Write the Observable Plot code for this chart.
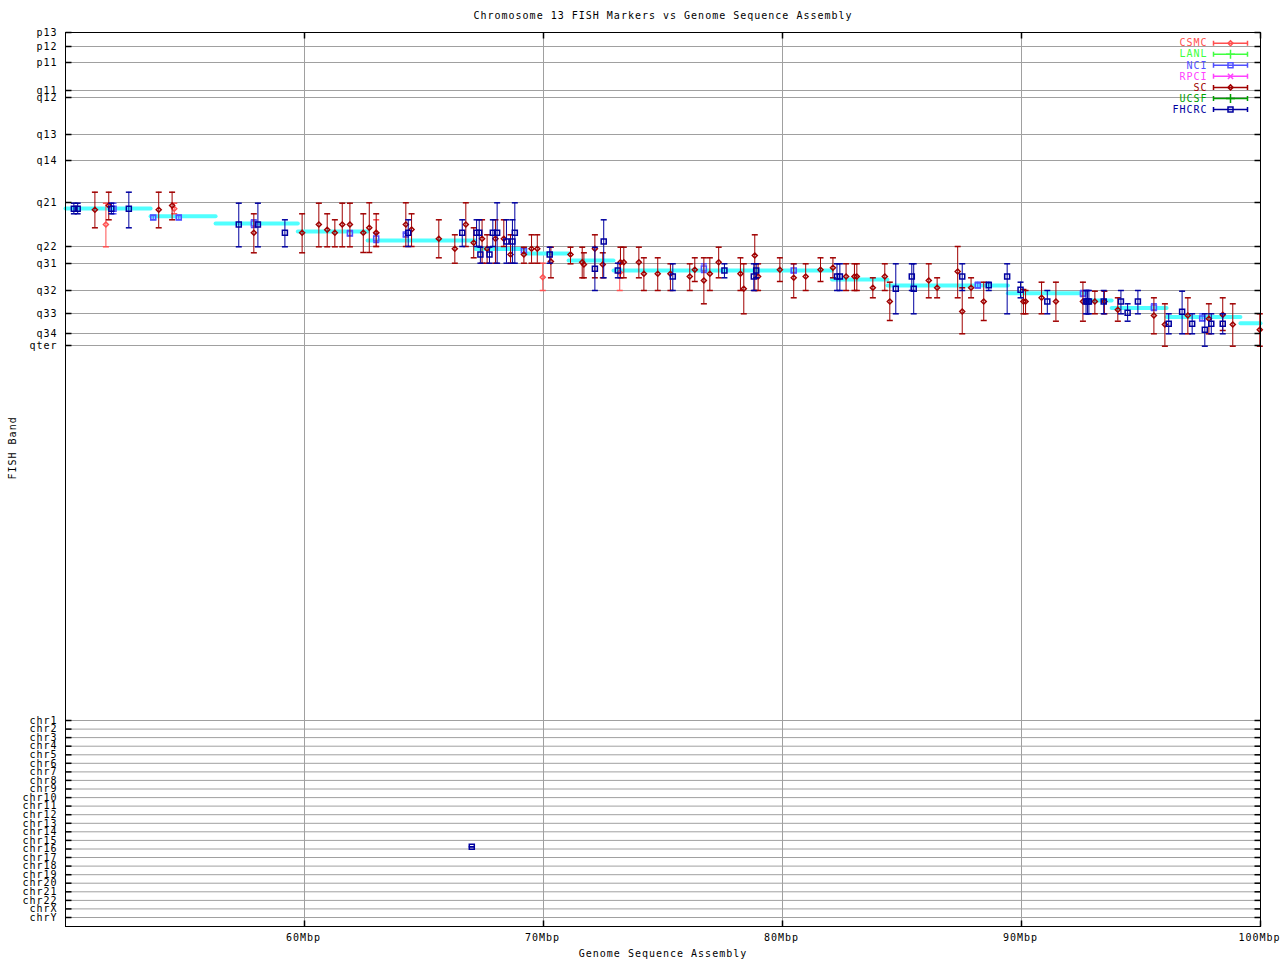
<!DOCTYPE html>
<html><head><meta charset="utf-8">
<script src="https://cdn.jsdelivr.net/npm/d3@7"></script>
<script src="https://cdn.jsdelivr.net/npm/@observablehq/plot@0.6"></script>
<style>
body{margin:0;background:#fff;}
#wrap{width:1280px;height:960px;}
</style></head><body><div id="wrap"></div>
<script>
// ---- axis data ----
const bandLabels = ["p13","p12","p11","q11","q12","q13","q14","q21","q22","q31","q32","q33","q34","qter"];
const bandPos    = [0,14,30,58,65,102,128,170,214,231,258,281,301,313];
const chrLabels  = ["chr1","chr2","chr3","chr4","chr5","chr6","chr7","chr8","chr9","chr10","chr11","chr12",
                    "chr13","chr14","chr15","chr16","chr17","chr18","chr19","chr20","chr21","chr22","chrX","chrY"];
const chrPos     = [688,696.6,705.1,713.7,722.3,730.8,739.4,747.9,756.5,765.1,773.6,782.2,
                    790.8,799.3,807.9,816.5,825.0,833.6,842.2,850.7,859.3,867.9,876.4,885];
const xTickValues = [60,70,80,90,100];
const xTickLabels = ["60Mbp","70Mbp","80Mbp","90Mbp","100Mbp"];

// ---- series (Mbp, band, band low, band high) ----
const seriesNames  = ["CSMC","LANL","NCI","RPCI","SC","UCSF","FHCRC"];
const seriesColors = ["#ff5050","#40ff40","#5050ff","#ff40ff","#a00000","#00a000","#0000a0"];

const CSMC = [[51.69,192,170.7,214.3],[54.55,176.3,170.7,181.3],[63.00,200.3,187.3,214],[69.97,244.7,230.7,258],[73.19,240,231.3,258]];
const LANL = [];
const NCI = [[52.01,176.3,170.7,181.3],[53.67,185,183,187],[54.74,185,183,187],[57.88,191,187.3,195],[61.90,201,198,203],
  [63.00,206,201,210],[64.24,202,201,204],[69.18,218,216,220],[76.71,236,231.3,240],[80.47,238,231.3,240],
  [88.17,253,249.7,255.3],[92.57,261,258,264],[95.54,275,271.3,278],[97.56,286,281.3,288]];
const RPCI = [];
const SC = [
[51.23,177.3,159.7,195.3],[51.81,173,159.7,187.3],[53.90,177.3,159.7,195.3],[54.46,173,159.7,187.3],
[57.88,200.3,181.3,220.3],[59.90,200.3,181.3,220.3],[60.60,192,170.7,214.3],[60.95,197.3,181.3,214.3],
[61.27,200.3,187.3,214.3],[61.58,192,170.7,214.3],[61.90,192,170.7,214.3],[62.46,200.3,181.3,220],
[62.71,195.3,170.3,220],[63.00,200.3,181.3,214],[64.24,192,170.3,214],[64.48,197,181.3,214],
[65.62,206.3,187.3,225.3],[66.29,216.3,202.3,230.7],[66.75,192,170.3,214],[67.08,210.3,195.3,225.3],
[67.43,206.3,187.3,230.7],[67.64,216.3,202.3,230.7],[67.99,206.3,187.3,230.7],[68.34,206.3,187.3,214],
[68.62,222,202.3,230.7],[69.18,222,214.7,230.7],[69.50,216.3,202.3,230.7],[69.74,216.3,202.3,230.7],
[70.31,229,214.7,245.3],[71.13,222,214.7,231.3],[71.62,229.7,214.7,245.3],[71.69,232,220.3,245.3],
[72.15,216.3,202.3,245.3],[72.48,232,220.3,245.3],[73.22,229.7,214.7,245.3],[73.36,229.7,214.7,245.3],
[73.99,229.7,214.7,245.3],[74.20,241.3,225.3,258],[74.78,241.3,225.3,258],[75.31,241.3,231.3,258],
[76.12,244,231.3,258],[76.33,237.3,225.3,249],[76.71,248,225.3,271.3],[76.96,241.3,225.3,258],
[77.33,229.7,214.7,245.3],[78.24,241.3,225.3,258],[78.38,256.3,231.3,281.3],[78.84,223,202.3,258],
[78.98,244,231.3,258],[79.89,237.3,225.3,249],[80.47,245.3,231.3,265.3],[80.97,244,231.3,258],
[81.59,237.3,225.3,249],[82.11,235.3,225.3,245.3],[82.66,244,231.3,258],[83.01,244,231.3,258],
[83.11,244,231.3,258],[83.78,255.3,245.3,265.3],[84.28,244,231.3,258],[84.49,269,249.7,288],
[86.12,248,231.3,265.3],[86.47,255.3,245.3,265.3],[87.33,239,214,265.3],[87.52,279,255.3,301.3],
[87.89,255.3,245.3,265.3],[88.42,269,249.7,288],[90.08,269,257,281.3],[90.17,269,258,281.3],
[90.84,265.3,249.7,281.3],[91.44,269,249.7,288.7],[92.57,269,249.7,288.7],[93.07,269,258.7,281.3],
[93.47,269,258.7,281.3],[94.03,277.3,265.3,288.7],[95.54,283,265.3,301.3],[96.00,292,271.3,313.7],
[96.96,283,265.3,301.3],[97.84,286.3,271.3,301.3],[98.42,282.3,265.3,298],[98.84,292,271.3,313.7],
[99.97,297.3,281.3,313.7]];
const UCSF = [];
const FHCRC = [
[50.35,176.3,170.7,181.3],[50.51,176.3,170.7,181.3],[51.92,176.3,170.7,181.3],[52.65,176.3,159.7,195.3],
[57.25,192,170.7,214.3],[58.05,192,170.7,214.3],[59.18,200.3,187.3,214.3],[64.34,200.3,187.3,214],
[66.60,200.3,187.3,214],[67.20,200.3,187.3,214],[67.31,200.3,187.3,214],[67.36,222,214.7,230.7],
[67.74,222,214.7,230.7],[67.88,200.3,187.3,214],[68.06,200.3,170.3,230.7],[68.45,209,187.3,230.7],
[68.70,209,187.3,230.7],[68.80,200.3,170.3,230.7],[70.26,222,214.7,230.7],[72.15,236.3,214.7,258],
[72.52,209,187.3,245.3],[73.11,238,230.7,245.3],[75.41,244,231.3,258],[77.57,238,231.3,245.3],
[78.80,244,231.3,258],[78.90,238,231.3,245.3],[82.28,244,231.3,258],[82.40,244,231.3,258],
[84.74,256.3,231.3,281.3],[85.41,244,231.3,258],[85.49,256.3,231.3,281.3],[87.52,244,231.3,258],
[88.63,252.7,249.7,258],[89.40,244,231.3,281.3],[89.96,257.3,249.7,265.3],[91.08,269,258,281.3],
[92.70,269,258,281.3],[92.76,269,258,281.3],[92.82,269,258,281.3],[93.44,269,258,281.3],
[94.16,269,258,281.3],[94.44,280.3,271.3,288.7],[94.87,269,258,281.3],[96.16,291.3,281.3,301.3],
[96.72,279.3,258.7,301.3],[97.14,291.3,281.3,301.3],[97.67,297.3,281.3,313.7],[97.94,291.3,281.3,301.3],
[98.42,291.3,281.3,301.3],[67.00,814.3,814.3,814.3]];

// ---- assembly band steps (cyan) ----
const assemblyBreaks = [50,53.56,56.28,59.72,62.64,67.15,69.25,71.05,72.93,82.07,84.39,89.43,92.66,93.77,96.07,99.16,100];
const assemblyLevels = [176,183.7,191,199,208,216.5,221,228,238,247,253,260.7,268,275.5,284.5,290.7];

// ---- symbols ----
const rad = s => Math.sqrt(s / Math.PI);
const symSquare  = {draw(c,s){const r=rad(s); c.rect(-r,-r,2*r,2*r);}};
const symDiamond = {draw(c,s){const r=rad(s); c.moveTo(0,-r); c.lineTo(r,0); c.lineTo(0,r); c.lineTo(-r,0); c.closePath();}};
const symCap     = {draw(c,s){const r=rad(s); c.moveTo(-r,0); c.lineTo(r,0);}};
const symTickR   = {draw(c,s){const r=rad(s); c.moveTo(0,0); c.lineTo(r,0);}};
const symTickL   = {draw(c,s){const r=rad(s); c.moveTo(0,0); c.lineTo(-r,0);}};
const symTickU   = {draw(c,s){const r=rad(s); c.moveTo(0,0); c.lineTo(0,-r);}};
const symTickD   = {draw(c,s){const r=rad(s); c.moveTo(0,0); c.lineTo(0,r);}};
const symLegend  = {draw(c,s){const r=rad(s); c.moveTo(-r,0); c.lineTo(r,0); c.moveTo(-r,-2.5); c.lineTo(-r,2.5); c.moveTo(r,-2.5); c.lineTo(r,2.5);}};
const seriesSymbols = [symDiamond, "plus", symSquare, "times", symDiamond, "plus", symSquare];
const seriesSymbolR = [2.5, 3, 2.5, 2.5, 2.5, 3, 2.5];
const seriesData = [CSMC, LANL, NCI, RPCI, SC, UCSF, FHCRC];

const allPos = bandPos.concat(chrPos);
const allLabels = bandLabels.concat(chrLabels);
const labelOf = new Map(allPos.map((p,i)=>[p, allLabels[i]]));
const xLabelOf = new Map(xTickValues.map((v,i)=>[v, xTickLabels[i]]));

const segments = assemblyLevels.map((y,i)=>({x1: assemblyBreaks[i], x2: assemblyBreaks[i+1], y}));

const marks = [
  Plot.ruleY(allPos, {y: d=>d, stroke: "#a0a0a0"}),
  Plot.ruleX(xTickValues.slice(0,4), {x: d=>d, stroke: "#a0a0a0"}),
  Plot.link(segments, {x1:"x1", x2:"x2", y1:"y", y2:"y", stroke:"#50ffff", strokeWidth:4, strokeLinecap:"round"}),
];

seriesData.forEach((arr, k) => {
  if (!arr.length) return;
  const rows = arr.map(([x,y,lo,hi]) => ({x,y,lo,hi}));
  const col = seriesColors[k];
  marks.push(
    Plot.ruleX(rows, {x:"x", y1:"lo", y2:"hi", stroke: col}),
    Plot.dot(rows, {x:"x", y:"lo", symbol: symCap, r: 3, stroke: col, fill: "none"}),
    Plot.dot(rows, {x:"x", y:"hi", symbol: symCap, r: 3, stroke: col, fill: "none"}),
    Plot.dot(rows, {x:"x", y:"y", symbol: seriesSymbols[k], r: seriesSymbolR[k], stroke: col, fill: "none"})
  );
});

// frame and ticks
marks.push(
  Plot.frame({stroke: "black"}),
  Plot.dot(allPos, {y: d=>d, frameAnchor: "left", symbol: symTickR, r: 6, stroke: "black", fill: "none"}),
  Plot.dot(allPos, {y: d=>d, frameAnchor: "right", symbol: symTickL, r: 6, stroke: "black", fill: "none"}),
  Plot.dot(xTickValues, {x: d=>d, frameAnchor: "bottom", symbol: symTickU, r: 6, stroke: "black", fill: "none"}),
  Plot.dot(xTickValues, {x: d=>d, frameAnchor: "top", symbol: symTickD, r: 6, stroke: "black", fill: "none"}),
  Plot.axisY(allPos, {tickSize: 0, tickPadding: 8, tickFormat: d => labelOf.get(d), label: null}),
  Plot.axisX(xTickValues, {tickSize: 0, tickPadding: 7, dx: -1, tickFormat: d => xLabelOf.get(d), label: null, style: {letterSpacing: "0.8px"}}),
  Plot.text(["Chromosome 13 FISH Markers vs Genome Sequence Assembly"], {text: d=>d, frameAnchor: "top", lineAnchor: "middle", dy: -17, fill: "black"}),
  Plot.text(["Genome Sequence Assembly"], {text: d=>d, frameAnchor: "bottom", lineAnchor: "middle", dy: 27, fill: "black"}),
  Plot.text(["FISH Band"], {text: d=>d, frameAnchor: "left", lineAnchor: "middle", dx: -53, rotate: -90, fill: "black"})
);

// legend (inside top-right)
seriesNames.forEach((name, i) => {
  const dy = 10.7 + i * 11.05;
  const col = seriesColors[i];
  marks.push(
    Plot.text([name], {text: d=>d, frameAnchor: "top-right", lineAnchor: "middle", dx: -53, dy, textAnchor: "end", fill: col}),
    Plot.dot([name], {frameAnchor: "top-right", dx: -30, dy, symbol: symLegend, r: 17, stroke: col, fill: "none"}),
    Plot.dot([name], {frameAnchor: "top-right", dx: -30, dy, symbol: seriesSymbols[i], r: seriesSymbolR[i], stroke: col, fill: "none"})
  );
});

const chart = Plot.plot({
  width: 1280, height: 960,
  marginLeft: 65, marginRight: 20, marginTop: 32, marginBottom: 34,
  style: {fontFamily: "'DejaVu Sans Mono', monospace", fontSize: "10px", letterSpacing: "1px", background: "white", color: "black"},
  x: {domain: [50, 100]},
  y: {domain: [0, 894], reverse: true},
  marks
});
document.getElementById("wrap").appendChild(chart);
</script>
</body></html>
